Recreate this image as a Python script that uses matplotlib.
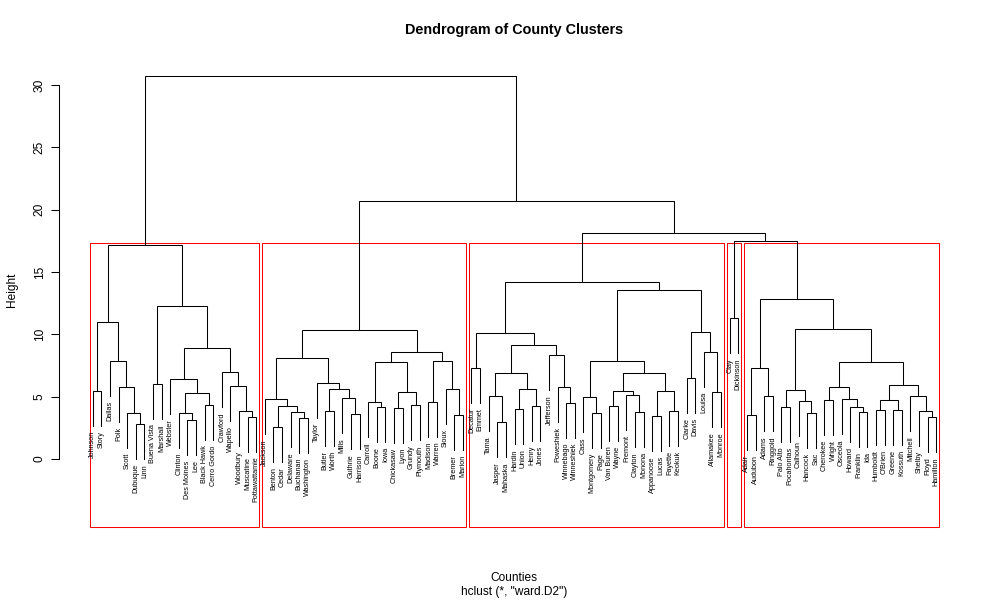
"""Dendrogram of County Clusters (hclust ward.D2, k = 5 rectangles)"""
import matplotlib
matplotlib.use('Agg')
import matplotlib.pyplot as plt
from matplotlib.patches import Rectangle

plt.rcParams['font.family'] = ['Liberation Sans', 'DejaVu Sans']

# merge table: (left, right, height); str = county (leaf), int = earlier merge row
merges = [
    # cluster 1
    ("Johnson", "Story", 5.45),            # 0
    ("Dubuque", "Linn", 2.8),              # 1
    ("Scott", 1, 3.69),                    # 2
    ("Polk", 2, 5.8),                      # 3
    ("Dallas", 3, 7.86),                   # 4
    (0, 4, 11.0),                          # 5
    ("Buena Vista", "Marshall", 6.0),      # 6
    ("Des Moines", "Lee", 3.1),            # 7
    ("Clinton", 7, 3.7),                   # 8
    ("Black Hawk", "Cerro Gordo", 4.3),    # 9
    (8, 9, 5.3),                           # 10
    ("Webster", 10, 6.4),                  # 11
    ("Muscatine", "Pottawattamie", 3.4),   # 12
    ("Woodbury", 12, 3.85),                # 13
    ("Wapello", 13, 5.85),                 # 14
    ("Crawford", 14, 6.98),                # 15
    (11, 15, 8.9),                         # 16
    (6, 16, 12.27),                        # 17
    (5, 17, 17.2),                         # 18
    # cluster 2
    ("Benton", "Cedar", 2.57),             # 19
    ("Buchanan", "Washington", 3.3),       # 20
    ("Delaware", 20, 3.77),                # 21
    (19, 21, 4.25),                        # 22
    ("Jackson", 22, 4.8),                  # 23
    ("Butler", "Worth", 3.85),             # 24
    ("Guthrie", "Harrison", 3.6),          # 25
    ("Mills", 25, 4.9),                    # 26
    (24, 26, 5.6),                         # 27
    ("Taylor", 27, 6.1),                   # 28
    (23, 28, 8.1),                         # 29
    ("Boone", "Iowa", 4.2),                # 30
    ("Carroll", 30, 4.57),                 # 31
    ("Chickasaw", "Lyon", 4.1),            # 32
    ("Grundy", "Plymouth", 4.3),           # 33
    (32, 33, 5.35),                        # 34
    (31, 34, 7.8),                         # 35
    ("Madison", "Warren", 4.6),            # 36
    ("Bremer", "Marion", 3.55),            # 37
    ("Sioux", 37, 5.6),                    # 38
    (36, 38, 7.9),                         # 39
    (35, 39, 8.6),                         # 40
    (29, 40, 10.35),                       # 41
    # cluster 3
    ("Decatur", "Emmet", 7.3),             # 42
    ("Jasper", "Mahaska", 2.95),           # 43
    ("Tama", 43, 5.05),                    # 44
    ("Hardin", "Union", 4.0),              # 45
    ("Henry", "Jones", 4.25),              # 46
    (45, 46, 5.6),                         # 47
    (44, 47, 6.9),                         # 48
    ("Winnebago", "Winneshiek", 4.5),      # 49
    ("Poweshiek", 49, 5.77),               # 50
    ("Jefferson", 50, 8.34),               # 51
    (48, 51, 9.15),                        # 52
    (42, 52, 10.1),                        # 53
    ("Montgomery", "Page", 3.7),           # 54
    ("Cass", 54, 4.97),                    # 55
    ("Van Buren", "Wayne", 4.25),          # 56
    ("Clayton", "Monona", 3.77),           # 57
    ("Fremont", 57, 5.13),                 # 58
    (56, 58, 5.45),                        # 59
    ("Appanoose", "Lucas", 3.45),          # 60
    ("Fayette", "Keokuk", 3.85),           # 61
    (60, 61, 5.45),                        # 62
    (59, 62, 6.9),                         # 63
    (55, 63, 7.86),                        # 64
    ("Clarke", "Davis", 6.5),              # 65
    ("Allamakee", "Monroe", 5.37),         # 66
    ("Louisa", 66, 8.58),                  # 67
    (65, 67, 10.2),                        # 68
    (64, 68, 13.55),                       # 69
    (53, 69, 14.2),                        # 70
    # cluster 4
    ("Clay", "Dickinson", 11.3),           # 71
    # cluster 5
    ("Adair", "Audubon", 3.5),             # 72
    ("Adams", "Ringgold", 5.05),           # 73
    (72, 73, 7.28),                        # 74
    ("Palo Alto", "Pocahontas", 4.17),     # 75
    ("Hancock", "Sac", 3.7),               # 76
    ("Calhoun", 76, 4.65),                 # 77
    (75, 77, 5.5),                         # 78
    ("Cherokee", "Wright", 4.73),          # 79
    ("Franklin", "Ida", 3.77),             # 80
    ("Howard", 80, 4.17),                  # 81
    ("Osceola", 81, 4.8),                  # 82
    (79, 82, 5.77),                        # 83
    ("Humboldt", "O'Brien", 3.93),         # 84
    ("Greene", "Kossuth", 3.93),           # 85
    (84, 85, 4.73),                        # 86
    ("Floyd", "Hamilton", 3.37),           # 87
    ("Shelby", 87, 3.85),                  # 88
    ("Mitchell", 88, 5.05),                # 89
    (86, 89, 5.93),                        # 90
    (83, 90, 7.8),                         # 91
    (78, 91, 10.4),                        # 92
    (74, 92, 12.8),                        # 93
    # top
    (71, 93, 17.5),                        # 94
    (70, 94, 18.15),                       # 95
    (41, 95, 20.7),                        # 96
    (18, 96, 30.7),                        # 97
]

n_clusters = 5
y_ticks = [0, 5, 10, 15, 20, 25, 30]

heights = [m[2] for m in merges]
hang = 0.1 * (max(heights) - min(heights))

# leaf order (left to right) from the tree
order = []
def walk(node):
    if isinstance(node, str):
        order.append(node)
        return
    a, b, _ = merges[node]
    walk(a)
    walk(b)
walk(len(merges) - 1)
leaf_x = {name: i + 1 for i, name in enumerate(order)}
n = len(order)

# x of every merge = mean of its children
node_x = {}
def xpos(node):
    if isinstance(node, str):
        return leaf_x[node]
    if node not in node_x:
        a, b, _ = merges[node]
        node_x[node] = (xpos(a) + xpos(b)) / 2
    return node_x[node]

fig = plt.figure(figsize=(10, 6), dpi=100)
ax = fig.add_axes([59 / 1000, 73 / 600, 911 / 1000, 468 / 600])
ax.set_xlim(1 - 0.04 * (n - 1), n + 0.04 * (n - 1))
ax.set_ylim(-5.45, 32.08)

for i, (a, b, h) in enumerate(merges):
    xs, ys = [], []
    for child in (a, b):
        if isinstance(child, str):
            y_end = h - hang
            ax.text(leaf_x[child], y_end - 0.4, child, rotation=90, ha='center',
                    va='top', fontsize=5.2, color='black')
        else:
            y_end = merges[child][2]
        xs.append(xpos(child))
        ys.append(y_end)
    ax.plot([xs[0], xs[0], xs[1], xs[1]], [ys[0], h, h, ys[1]],
            color='black', lw=0.75, solid_joinstyle='miter')

# rect.hclust: cut between the k-th and (k-1)-th highest merges
sorted_h = sorted(heights, reverse=True)
cut = (sorted_h[n_clusters - 2] + sorted_h[n_clusters - 1]) / 2
top_nodes = [i for i, h in enumerate(heights) if h > cut]
roots = []
for i in top_nodes:
    for child in merges[i][:2]:
        if isinstance(child, str) or child not in top_nodes:
            roots.append(child)

def leaves_of(node):
    if isinstance(node, str):
        return [node]
    a, b, _ = merges[node]
    return leaves_of(a) + leaves_of(b)

for r in roots:
    pos = [leaf_x[l] for l in leaves_of(r)]
    lo, hi = min(pos) - 0.34, max(pos) + 0.33
    ax.add_patch(Rectangle((lo, -5.45), hi - lo, cut + 5.45, fill=False,
                           edgecolor='red', lw=0.75, clip_on=False))

for s in ('top', 'right', 'bottom'):
    ax.spines[s].set_visible(False)
ax.spines['left'].set_bounds(0, 30)
ax.spines['left'].set_linewidth(0.75)
ax.set_xticks([])
ax.set_yticks(y_ticks)
ax.tick_params(axis='y', length=5.5, width=0.75, pad=4, labelsize=8.6)
for lab in ax.get_yticklabels():
    lab.set_rotation(90)
    lab.set_va('center')

fig.text(0.514, 1 - 30 / 600, 'Dendrogram of County Clusters', ha='center',
         va='center', fontsize=10.4, fontweight='bold')
fig.text(0.012, 1 - 290 / 600, 'Height', rotation=90, ha='center', va='center',
         fontsize=8.6)
fig.text(0.514, 1 - 578 / 600, 'Counties', ha='center', va='center', fontsize=8.6)
fig.text(0.514, 1 - 592 / 600, 'hclust (*, "ward.D2")', ha='center', va='center',
         fontsize=8.6)

fig.savefig('out.png', dpi=100, facecolor='white')
